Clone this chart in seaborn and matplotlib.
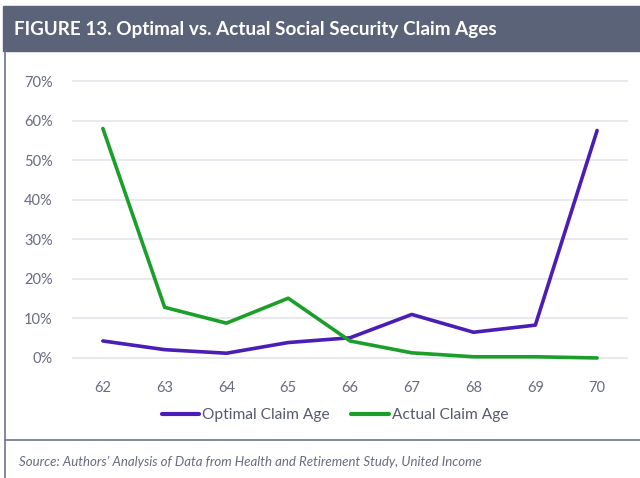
import matplotlib.pyplot as plt
import matplotlib.ticker as mticker
import numpy as np
import pandas as pd
import seaborn as sns

# values (percent of people claiming at each age)
claim_ages = [62, 63, 64, 65, 66, 67, 68, 69, 70]
optimal_pct = [4.3, 2.1, 1.2, 3.9, 5.1, 11.0, 6.5, 8.3, 57.5]
actual_pct = [58.0, 12.8, 8.8, 15.1, 4.3, 1.3, 0.3, 0.3, 0.0]
series_names = ['Optimal Claim Age', 'Actual Claim Age']
title_text = 'FIGURE 13. Optimal vs. Actual Social Security Claim Ages'
source_text = 'Source: Authors\u2019 Analysis of Data from Health and Retirement Study, United Income'

df = pd.DataFrame({
    'age': claim_ages * 2,
    'pct': optimal_pct + actual_pct,
    'series': [series_names[0]] * len(claim_ages) + [series_names[1]] * len(claim_ages),
})

sns.set_theme(style='white')
plt.rcParams['font.family'] = ['Lato', 'DejaVu Sans']

fig = plt.figure(figsize=(6.4, 4.78), dpi=100)
ax = fig.add_axes([72 / 640, 1 - 363.9 / 478, 556 / 640, 288.8 / 478])

palette = {series_names[0]: '#4a1db4', series_names[1]: '#1c9e2a'}
sns.lineplot(data=df, x='age', y='pct', hue='series', palette=palette,
             linewidth=2.6, ax=ax, legend=True)

ax.set_xlim(61.5, 70.5)
ax.set_ylim(-1.5, 71.5)
ax.set_xticks(claim_ages)
ax.set_yticks(np.arange(0, 71, 10))
ax.yaxis.set_major_formatter(mticker.FuncFormatter(lambda v, p: f'{v:.0f}%'))
ax.grid(axis='y', color='#e4e5ec', linewidth=1.2)
ax.set_axisbelow(True)
for s in ax.spines.values():
    s.set_visible(False)
ax.set_xlabel('')
ax.set_ylabel('')
ax.tick_params(axis='both', length=0, labelsize=10.5, colors='#676c80')
ax.tick_params(axis='y', pad=14)
ax.tick_params(axis='x', pad=12)

handles, labels = ax.get_legend_handles_labels()
for h in handles:
    h.set_linewidth(3)
fig.legend(handles, labels, loc='center', bbox_to_anchor=(335 / 640, 1 - 415 / 478),
           ncol=2, frameon=False, fontsize=11.2, handlelength=2.4, handletextpad=0.2,
           columnspacing=1.4, labelcolor='#555a6e')
ax.get_legend().remove()

# title band and frame lines
fig.patches.append(plt.Rectangle((3 / 640, 1 - 51 / 478), 1, 45 / 478,
                                 transform=fig.transFigure, color='#5b6378', zorder=0))
fig.lines.append(plt.Line2D([4.5 / 640, 4.5 / 640], [0, 1 - 51 / 478],
                            transform=fig.transFigure, color='#6e7488', linewidth=1.2))
fig.lines.append(plt.Line2D([4.5 / 640, 1], [1 - 440 / 478, 1 - 440 / 478],
                            transform=fig.transFigure, color='#6e7488', linewidth=1.2))
fig.text(14 / 640, 1 - 30 / 478, title_text, color='white', fontsize=13.6,
         fontweight='bold', va='center', ha='left')
fig.text(19 / 640, 1 - 462 / 478, source_text, color='#676c80', fontsize=9.5,
         style='italic', va='center', ha='left')

fig.savefig('out.png', dpi=100)
